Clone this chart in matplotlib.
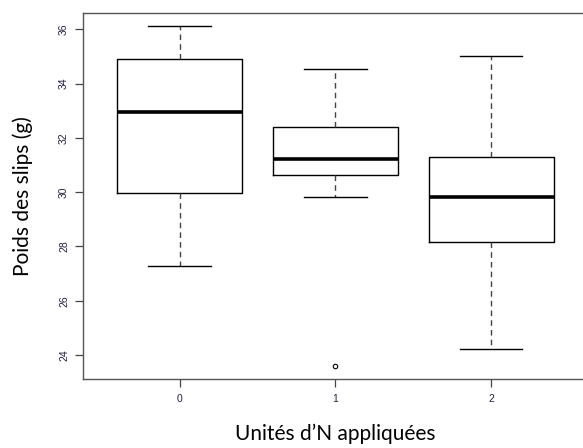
import matplotlib
matplotlib.use('Agg')
import matplotlib.pyplot as plt

# boxplot summaries
groups = ['0', '1', '2']
whisker_low = [27.29, 29.81, 24.21]
q1 = [29.98, 30.62, 28.17]
median = [32.96, 31.21, 29.81]
q3 = [34.91, 32.40, 31.30]
whisker_high = [36.12, 34.53, 35.02]
outliers = [[], [23.61], []]

yticks = [24, 26, 28, 30, 32, 34, 36]

stats = [
    {'label': g, 'whislo': lo, 'q1': a, 'med': m, 'q3': b, 'whishi': hi, 'fliers': f}
    for g, lo, a, m, b, hi, f in zip(groups, whisker_low, q1, median, q3,
                                     whisker_high, outliers)
]

fig = plt.figure(figsize=(5.83, 4.48), dpi=100)
ax = fig.add_axes([0.1424, 0.154, 0.866, 0.8177])

ax.bxp(
    stats,
    positions=range(len(groups)),
    widths=0.8,
    showfliers=True,
    boxprops={'color': 'black', 'linewidth': 1.0},
    medianprops={'color': 'black', 'linewidth': 2.6, 'solid_capstyle': 'butt'},
    whiskerprops={'color': '#444444', 'linewidth': 1.0, 'linestyle': (0, (4, 3))},
    capprops={'color': 'black', 'linewidth': 1.0},
    capwidths=0.4,
    flierprops={'marker': 'o', 'markersize': 3.2, 'markerfacecolor': 'none',
                'markeredgecolor': 'black', 'markeredgewidth': 0.8},
)

ax.set_xlim(-0.62, 2.62)
ax.set_ylim(23.12, 36.61)
ax.set_xticks(range(len(groups)))
ax.set_xticklabels(groups, family='Liberation Sans')
ax.set_yticks(yticks)
ax.set_yticklabels([str(t) for t in yticks], rotation=90, va='center',
                   family='Liberation Sans')

for s in ax.spines.values():
    s.set_color('#555555')
    s.set_linewidth(1.0)

ax.tick_params(axis='both', length=6, width=0.9, color='#444444',
               labelsize=7.5, labelcolor='#222244', pad=5)
ax.tick_params(axis='y', pad=4)

ax.set_xlabel("Unités d\u2019N appliquées", family='Lato', fontsize=15, labelpad=14)
ax.set_ylabel('Poids des slips (g)', family='Lato', fontsize=15, labelpad=19)

fig.savefig('out.png', dpi=100)
